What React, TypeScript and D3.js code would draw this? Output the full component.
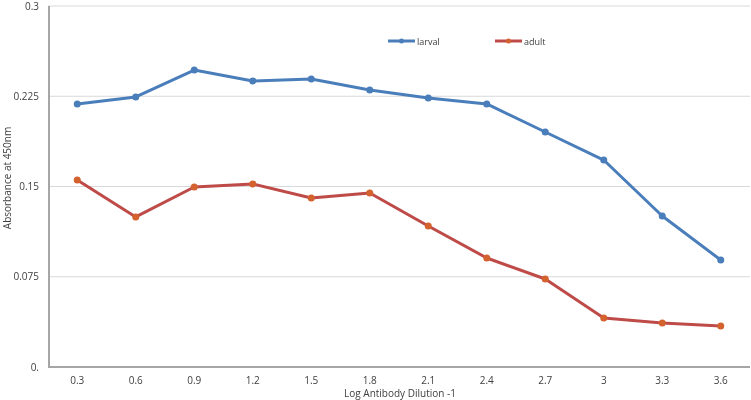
import React, { useRef, useEffect } from 'react';
import * as d3 from 'd3';

const dilutions = ['0.3', '0.6', '0.9', '1.2', '1.5', '1.8', '2.1', '2.4', '2.7', '3', '3.3', '3.6'];
const larval = [0.2186, 0.2244, 0.2468, 0.2377, 0.2393, 0.2302, 0.2236, 0.2186, 0.1953, 0.172, 0.1255, 0.0889];
const adult = [0.1554, 0.1247, 0.1496, 0.1521, 0.1404, 0.1446, 0.1172, 0.0906, 0.0731, 0.0407, 0.0366, 0.0341];
const yTicks = [0, 0.075, 0.15, 0.225, 0.3];
const yTickLabels = ['0.', '0.075', '0.15', '0.225', '0.3'];

const series = [
    { name: 'larval', values: larval, line: '#4A7EBB', marker: '#4A7EBB' },
    { name: 'adult', values: adult, line: '#BE4B48', marker: '#D4622E' },
];

export default function App() {
    const ref = useRef(null);

    useEffect(() => {
        const width = 751;
        const height = 400;
        const margin = { left: 48, right: 1, top: 6, bottom: 33 };
        const font = '"Open Sans", "Liberation Sans", sans-serif';

        const root = d3.select(ref.current);
        root.selectAll('*').remove();

        const svg = root
            .append('svg')
            .attr('width', width)
            .attr('height', height)
            .style('display', 'block')
            .style('overflow', 'visible')
            .style('font-family', font);

        const x = d3.scalePoint(dilutions, [margin.left, width - margin.right]).padding(0.5);
        const y = d3.scaleLinear([0, 0.3], [height - margin.bottom, margin.top]);

        // gridlines
        svg.append('g')
            .selectAll('line')
            .data(yTicks.slice(1))
            .join('line')
            .attr('x1', margin.left)
            .attr('x2', width - margin.right)
            .attr('y1', (d) => y(d))
            .attr('y2', (d) => y(d))
            .attr('stroke', '#D9D9D9')
            .attr('stroke-width', 1);

        // axes
        svg.append('line')
            .attr('x1', margin.left + 1)
            .attr('x2', margin.left + 1)
            .attr('y1', margin.top)
            .attr('y2', y(0))
            .attr('stroke', '#A6A6A6')
            .attr('stroke-width', 2);
        svg.append('line')
            .attr('x1', margin.left)
            .attr('x2', width - margin.right)
            .attr('y1', y(0))
            .attr('y2', y(0))
            .attr('stroke', '#A6A6A6')
            .attr('stroke-width', 2);

        svg.append('g')
            .selectAll('text')
            .data(yTicks)
            .join('text')
            .attr('x', 39)
            .attr('y', (d) => y(d) + 3.5)
            .attr('text-anchor', 'end')
            .attr('font-size', 10)
            .attr('fill', '#404040')
            .text((_, i) => yTickLabels[i]);

        svg.append('g')
            .selectAll('text')
            .data(dilutions)
            .join('text')
            .attr('x', (d) => x(d))
            .attr('y', 384)
            .attr('text-anchor', 'middle')
            .attr('font-size', 10)
            .attr('fill', '#404040')
            .text((d) => d);

        svg.append('text')
            .attr('x', 400)
            .attr('y', 397)
            .attr('text-anchor', 'middle')
            .attr('font-size', 10)
            .attr('fill', '#404040')
            .text('Log Antibody Dilution -1');

        svg.append('text')
            .attr('transform', 'translate(11,178) rotate(-90)')
            .attr('text-anchor', 'middle')
            .attr('font-size', 10)
            .attr('fill', '#404040')
            .text('Absorbance at 450nm');

        const line = d3
            .line()
            .x((_, i) => x(dilutions[i]))
            .y((d) => y(d));

        series.forEach((s) => {
            const g = svg.append('g');
            g.append('path')
                .datum(s.values)
                .attr('fill', 'none')
                .attr('stroke', s.line)
                .attr('stroke-width', 3)
                .attr('stroke-linejoin', 'round')
                .attr('d', line);
            g.selectAll('circle')
                .data(s.values)
                .join('circle')
                .attr('cx', (_, i) => x(dilutions[i]))
                .attr('cy', (d) => y(d))
                .attr('r', 3.5)
                .attr('fill', s.marker);
        });

        // legend
        const legendX = [388, 495];
        series.forEach((s, i) => {
            const lg = svg.append('g').attr('transform', `translate(${legendX[i]},41)`);
            lg.append('line')
                .attr('x1', 0)
                .attr('x2', 27)
                .attr('stroke', s.line)
                .attr('stroke-width', 3);
            lg.append('circle').attr('cx', 13.5).attr('r', 2.5).attr('fill', s.marker);
            lg.append('text')
                .attr('x', 29)
                .attr('y', 3.5)
                .attr('font-size', 9)
                .attr('fill', '#404040')
                .text(s.name);
        });
    }, []);

    return <div ref={ref} style={{ position: 'fixed', left: 0, top: 0 }}></div>;
}
